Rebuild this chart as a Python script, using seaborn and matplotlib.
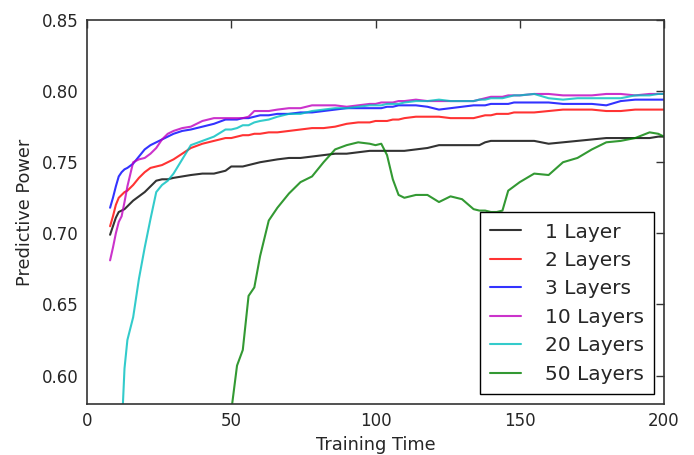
import numpy as np
import pandas as pd
import matplotlib
matplotlib.use("Agg")
import matplotlib.pyplot as plt
import seaborn as sns

nan = np.nan
x = [8, 9, 10, 11, 12, 13, 14, 16, 18, 20, 22, 24, 26, 28, 30, 33, 36, 40, 44, 48,
     50, 52, 54, 56, 58, 60, 63, 66, 70, 74, 78, 82, 86, 90, 94, 98, 100, 102, 104,
     106, 108, 110, 114, 118, 122, 126, 130, 134, 136, 138, 140, 142, 144, 146, 148,
     150, 155, 160, 165, 170, 175, 180, 185, 190, 195, 198, 200]

layer1 = [0.699, 0.705, 0.711, 0.715, 0.716, 0.717, 0.719, 0.723, 0.726, 0.729, 0.733,
          0.737, 0.738, 0.738, 0.739, 0.740, 0.741, 0.742, 0.742, 0.744, 0.747, 0.747,
          0.747, 0.748, 0.749, 0.750, 0.751, 0.752, 0.753, 0.753, 0.754, 0.755, 0.756,
          0.756, 0.757, 0.758, 0.758, 0.758, 0.758, 0.758, 0.758, 0.758, 0.759, 0.760,
          0.762, 0.762, 0.762, 0.762, 0.762, 0.764, 0.765, 0.765, 0.765, 0.765, 0.765,
          0.765, 0.765, 0.763, 0.764, 0.765, 0.766, 0.767, 0.767, 0.767, 0.767, 0.768,
          0.768]
layers2 = [0.705, 0.712, 0.720, 0.725, 0.727, 0.729, 0.730, 0.734, 0.739, 0.743, 0.746,
           0.747, 0.748, 0.750, 0.752, 0.756, 0.760, 0.763, 0.765, 0.767, 0.767, 0.768,
           0.769, 0.769, 0.770, 0.770, 0.771, 0.771, 0.772, 0.773, 0.774, 0.774, 0.775,
           0.777, 0.778, 0.778, 0.779, 0.779, 0.779, 0.780, 0.780, 0.781, 0.782, 0.782,
           0.782, 0.781, 0.781, 0.781, 0.782, 0.783, 0.783, 0.784, 0.784, 0.784, 0.785,
           0.785, 0.785, 0.786, 0.787, 0.787, 0.787, 0.786, 0.786, 0.787, 0.787, 0.787,
           0.787]
layers3 = [0.718, 0.725, 0.733, 0.740, 0.743, 0.745, 0.746, 0.749, 0.754, 0.759, 0.762,
           0.764, 0.766, 0.768, 0.770, 0.772, 0.773, 0.775, 0.777, 0.780, 0.780, 0.780,
           0.781, 0.781, 0.782, 0.783, 0.783, 0.784, 0.784, 0.785, 0.785, 0.786, 0.787,
           0.788, 0.788, 0.788, 0.788, 0.788, 0.789, 0.789, 0.790, 0.790, 0.790, 0.789,
           0.787, 0.788, 0.789, 0.790, 0.790, 0.790, 0.791, 0.791, 0.791, 0.791, 0.792,
           0.792, 0.792, 0.792, 0.791, 0.791, 0.791, 0.790, 0.793, 0.794, 0.794, 0.794,
           0.794]
layers10 = [0.681, 0.690, 0.700, 0.708, 0.712, 0.722, 0.733, 0.750, 0.752, 0.753, 0.756,
            0.760, 0.766, 0.770, 0.772, 0.774, 0.775, 0.779, 0.781, 0.781, 0.781, 0.781,
            0.781, 0.782, 0.786, 0.786, 0.786, 0.787, 0.788, 0.788, 0.790, 0.790, 0.790,
            0.789, 0.790, 0.791, 0.791, 0.792, 0.792, 0.792, 0.793, 0.793, 0.794, 0.793,
            0.793, 0.793, 0.793, 0.793, 0.794, 0.795, 0.796, 0.796, 0.796, 0.797, 0.797,
            0.797, 0.798, 0.798, 0.797, 0.797, 0.797, 0.798, 0.798, 0.797, 0.798, 0.798,
            0.798]
layers20 = [nan, nan, nan, nan, 0.560, 0.605, 0.625, 0.641, 0.668, 0.690, 0.710,
            0.729, 0.734, 0.737, 0.742, 0.752, 0.762, 0.765, 0.768, 0.773, 0.773, 0.774,
            0.776, 0.776, 0.778, 0.779, 0.780, 0.782, 0.784, 0.784, 0.786, 0.787, 0.788,
            0.788, 0.789, 0.790, 0.790, 0.790, 0.791, 0.791, 0.791, 0.792, 0.793, 0.793,
            0.794, 0.793, 0.793, 0.793, 0.794, 0.794, 0.795, 0.795, 0.795, 0.796, 0.797,
            0.797, 0.798, 0.795, 0.794, 0.795, 0.795, 0.795, 0.795, 0.797, 0.797, 0.798,
            0.798]
layers50 = [nan, nan, nan, nan, nan, nan, nan, nan, nan, nan, nan,
            nan, nan, nan, nan, nan, nan, nan, nan, nan, 0.575, 0.607,
            0.618, 0.656, 0.662, 0.684, 0.709, 0.718, 0.728, 0.736, 0.740, 0.750, 0.759,
            0.762, 0.764, 0.763, 0.762, 0.763, 0.755, 0.738, 0.727, 0.725, 0.727, 0.727,
            0.722, 0.726, 0.724, 0.717, 0.716, 0.716, 0.715, 0.715, 0.716, 0.730, 0.733,
            0.736, 0.742, 0.741, 0.750, 0.753, 0.759, 0.764, 0.765, 0.767, 0.771, 0.770,
            0.768]

labels = ["1 Layer", "2 Layers", "3 Layers", "10 Layers", "20 Layers", "50 Layers"]
series = [layer1, layers2, layers3, layers10, layers20, layers50]
colors = ["#000000", "#ff0000", "#0000ff", "#bf00bf", "#00bfbf", "#008000"]

df = pd.concat(
    [pd.DataFrame({"Training Time": x, "Predictive Power": s, "model": lab})
     for lab, s in zip(labels, series)],
    ignore_index=True,
).dropna()

sns.set_theme(style="white")
plt.rcParams["font.family"] = ["DejaVu Sans"]
text_col = "#262626"

fig = plt.figure(figsize=(6.94, 4.55), dpi=100)
ax = fig.add_axes([87 / 694, 1 - 404 / 455, (664 - 87) / 694, (404 - 20) / 455])

sns.lineplot(data=df, x="Training Time", y="Predictive Power", hue="model",
             hue_order=labels, palette=dict(zip(labels, colors)),
             estimator=None, linewidth=1.5, alpha=0.8, ax=ax, legend=False)

ax.set_xlim(0, 200)
ax.set_ylim(0.58, 0.85)
ax.set_xticks([0, 50, 100, 150, 200])
ax.set_yticks([0.60, 0.65, 0.70, 0.75, 0.80, 0.85])
ax.set_yticklabels(["0.60", "0.65", "0.70", "0.75", "0.80", "0.85"])
ax.set_xlabel("Training Time", fontsize=12.8, color=text_col, labelpad=4)
ax.set_ylabel("Predictive Power", fontsize=12.8, color=text_col, labelpad=6)
ax.tick_params(direction="in", top=True, right=True, length=6, width=1,
               labelsize=12, colors="#333333", labelcolor=text_col, pad=6)
for sp in ax.spines.values():
    sp.set_visible(True)
    sp.set_color("#333333")
    sp.set_linewidth(1.2)

handles = [plt.Line2D([], [], color=c, lw=1.5, alpha=0.8) for c in colors]
leg = ax.legend(handles, labels, loc="lower right", fontsize=14.5, frameon=True,
                fancybox=False, handlelength=1.5, handletextpad=1.2,
                labelspacing=0.47, borderpad=0.5, borderaxespad=0.5)
leg.get_frame().set_edgecolor("black")
leg.get_frame().set_linewidth(1.0)
leg.get_frame().set_alpha(1)
for t in leg.get_texts():
    t.set_color(text_col)

fig.savefig("out.png", dpi=100)
